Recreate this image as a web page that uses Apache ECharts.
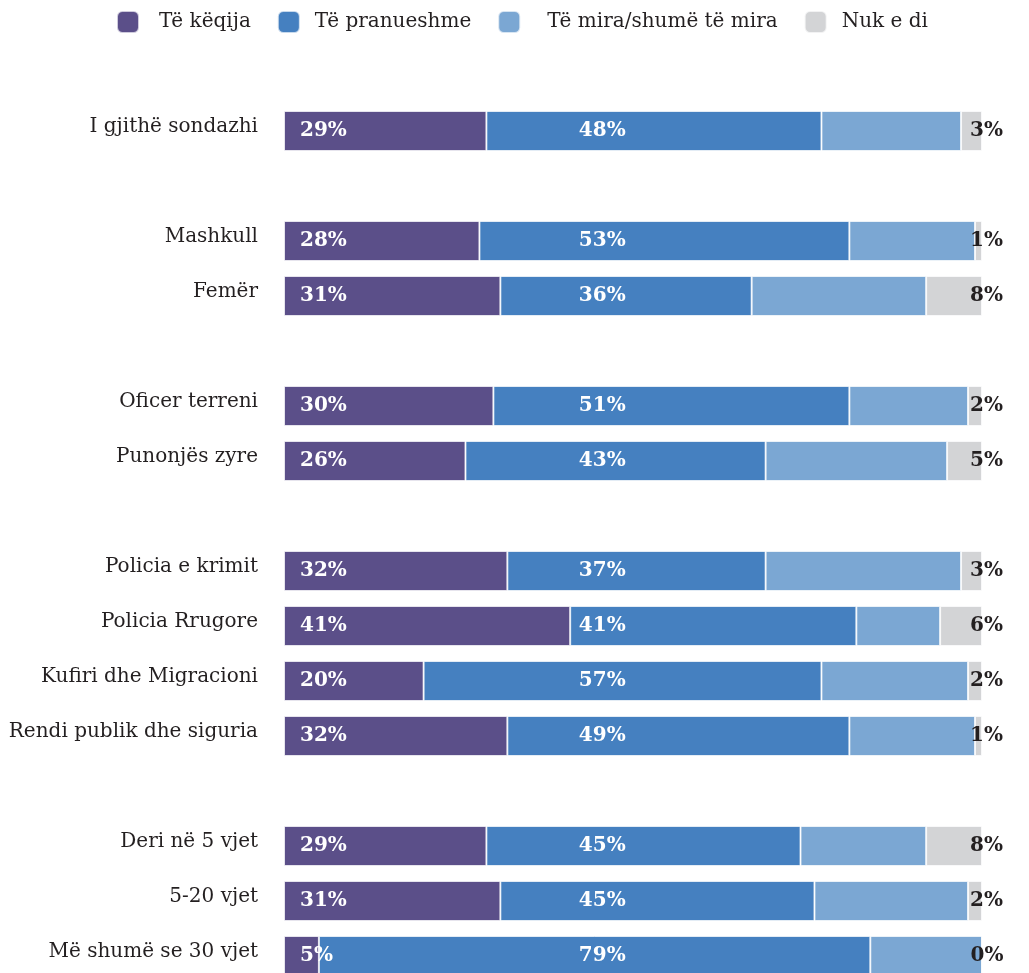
<!DOCTYPE html>
<html><head><meta charset="utf-8">
<script src="https://cdn.jsdelivr.net/npm/echarts@6/dist/echarts.min.js"></script>
<style>html,body{margin:0;padding:0;background:#fff;overflow:hidden;}#c{width:1029px;height:1040px;}</style>
</head><body><div id="c"></div>
<script>
const categories = ["I gjithë sondazhi","", "Mashkull","Femër","","Oficer terreni","Punonjës zyre","","Policia e krimit","Policia Rrugore","Kufiri dhe Migracioni","Rendi publik dhe siguria","","Deri në 5 vjet","5-20 vjet","Më shumë se 30 vjet"];
const seriesNames = ["Të këqija","Të pranueshme","Të mira/shumë të mira","Nuk e di"];
const bad        = [29,null,28,31,null,30,26,null,32,41,20,32,null,29,31,5];
const acceptable = [48,null,53,36,null,51,43,null,37,41,57,49,null,45,45,79];
const good       = [20,null,18,25,null,17,26,null,28,12,21,18,null,18,22,16];
const dontKnow   = [3,null,1,8,null,2,5,null,3,6,2,1,null,8,2,0];

const colors = ['#5b4f89','#4580c0','#7ba7d3','#d3d4d6'];
const FONT = 'DejaVu Serif';
const blueLabelAnchor = 45.6; // axis value where the middle labels sit in the original
const legendTextGaps = [15, 10, 22, 10];

const chart = echarts.init(document.getElementById('c'));
const border = {borderColor:'rgba(255,255,255,0.7)', borderWidth:1};
const labelBase = {fontFamily: FONT, fontWeight:'bold', fontSize:20};

const blueData = acceptable.map((v,i)=> v==null ? null : {
  value: v,
  label: {position: [((blueLabelAnchor - bad[i]) / v * 100) + '%', '50%']}
});

chart.setOption({
  animation:false,
  color: colors,
  legend: {
    top: 5, left: 111, itemWidth: 22, itemHeight: 22, itemGap: 26,
    icon: 'roundRect',
    data: seriesNames.map((n,i)=>({name:n, textStyle:{padding:[0,0,0,legendTextGaps[i]]}})),
    textStyle: {fontFamily: FONT, fontSize: 20, color:'#231f20'}
  },
  grid: {left: 284, width: 698, top: 103.5, height: 880, containLabel:false},
  xAxis: {type:'value', min:0, max:100, show:false},
  yAxis: {
    type:'category', data: categories, inverse:true,
    axisLine:{show:false}, axisTick:{show:false},
    axisLabel:{margin:26, formatter: v => v ? '{a|' + v + '}' : '',
      rich:{a:{fontFamily: FONT, fontSize:20, color:'#231f20', padding:[0,0,8,0]}}}
  },
  series: [
    {name: seriesNames[0], type:'bar', stack:'a', barWidth:40, data: bad, itemStyle:border,
     label:{show:true, ...labelBase, color:'#fff', position:'insideLeft', distance:16,
            formatter: p => p.value + '%'}},
    {name: seriesNames[1], type:'bar', stack:'a', barWidth:40, data: blueData, itemStyle:border,
     label:{show:true, ...labelBase, color:'#fff', align:'center', verticalAlign:'middle',
            formatter: p => p.value + '%'}},
    {name: seriesNames[2], type:'bar', stack:'a', barWidth:40, data: good, itemStyle:border,
     label:{show:false}},
    {name: seriesNames[3], type:'bar', stack:'a', barWidth:40, data: dontKnow, itemStyle:border,
     label:{show:true, ...labelBase, color:'#231f20', position:['100%','50%'], offset:[-12,0],
            align:'left', verticalAlign:'middle', formatter: p => p.value + '%'}}
  ]
});
</script></body></html>
